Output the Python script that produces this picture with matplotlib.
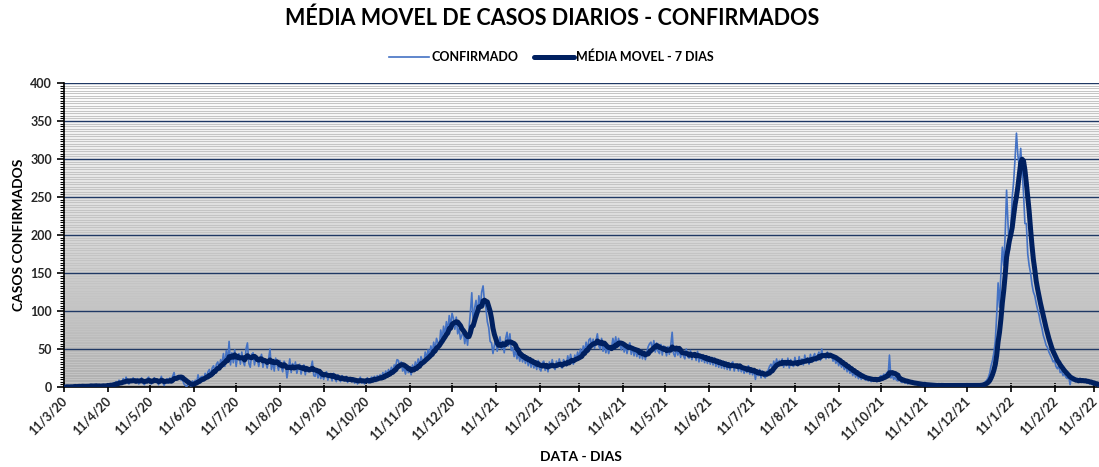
import numpy as np
import pandas as pd
import matplotlib
matplotlib.use("Agg")
import matplotlib.pyplot as plt
from matplotlib.ticker import MultipleLocator
from matplotlib.colors import LinearSegmentedColormap

# casos confirmados por dia
mar20 = [0,0,1,0,0,1,0,2,1,0,1,1,0,2,1,1,0,2,1,3,1]
apr20 = [1,2,1,0,2,1,3,2,1,2,3,2,4,3,5,4,7,3,9,6,5,11,6,13,7,4,10,6,12,7]
may20 = [6,11,4,9,12,5,3,9,11,13,5,4,9,12,6,10,3,8,14,6,2,9,11,5,12,8,14,19,9,12,15]
jun20 = [14,9,10,4,2,0,7,3,1,8,4,9,5,16,8,13,14,8,18,12,20,23,14,25,28,19,30,33,24,36]
jul20 = [31,44,27,48,33,60,29,45,32,49,27,41,44,30,46,33,28,50,58,31,26,43,45,29,40,38,27,37,43,26,35]
aug20 = [33,25,37,50,23,34,21,38,30,22,35,26,20,34,29,12,24,37,19,31,23,33,18,26,30,17,25,29,16,27,20]
sep20 = [22,25,34,15,14,24,12,21,11,19,10,18,20,9,17,15,8,18,11,7,16,10,7,15,9,8,14,6,12,8]
oct20 = [7,12,5,10,4,9,13,5,10,4,9,12,5,10,13,9,14,7,15,10,16,11,19,13,21,15,23,17,26,20,29]
nov20 = [27,36,35,25,33,21,25,17,28,19,26,16,29,22,33,26,37,28,40,35,31,46,37,49,40,54,44,59,49,64]
dec20 = [58,54,75,62,80,68,86,73,94,79,97,90,76,92,70,77,63,68,74,57,70,55,77,98,124,84,104,114,92,120,104]
jan21 = [125,133,112,104,86,78,60,58,44,55,62,47,58,66,50,60,45,64,72,54,70,48,52,40,49,37,45,34,44,33,41]
feb21 = [31,40,28,38,26,36,25,33,23,35,24,21,32,34,22,31,20,33,25,36,27,23,34,26,37,28,25,36]
mar21 = [33,28,41,31,43,34,30,42,35,46,38,50,41,54,46,59,49,62,64,53,63,51,61,70,54,50,64,47,58,45,55]
apr21 = [44,53,51,64,54,66,52,64,55,49,59,46,56,44,54,58,43,53,41,51,40,50,38,48,37,47,36,46,53,57]
may21 = [59,49,61,46,58,47,44,56,42,54,51,41,53,43,55,72,44,40,52,42,51,39,49,41,37,50,40,38,48,36,45]
jun21 = [44,35,47,33,43,34,42,32,41,31,40,30,39,29,38,27,36,26,35,25,34,24,33,23,32,22,31,33,21,30]
jul21 = [28,21,30,20,27,18,26,19,28,17,25,16,24,10,22,15,23,12,21,14,12,20,22,27,30,24,34,27,37,28,35]
aug21 = [29,37,26,35,28,38,25,36,29,27,39,30,28,40,31,37,29,42,32,38,30,43,33,40,44,34,41,46,35,50,39]
sep21 = [44,37,46,38,40,43,34,39,31,37,28,34,26,31,23,29,20,26,18,23,15,21,13,18,11,16,10,13,12,9]
oct21 = [12,8,13,7,11,8,12,7,11,13,15,12,17,14,19,13,42,12,16,10,13,9,8,12,7,6,10,5,8,4,7]
nov21 = [5,4,6,3,5,4,3,4,2,3,4,2,3,2,3,1,2,3,2,1,3,2,2,1,3,2,1,2,3,2]
dec21 = [2,3,1,2,2,3,1,2,3,2,1,2,3,2,2,1,3,2,2,3,3,4,5,7,9,12,18,28,35,45,60]
jan22 = [95,137,105,150,184,160,200,259,215,180,205,250,270,300,334,305,290,314,285,255,215,215,175,160,150,135,125,120,110,102,95]
feb22 = [85,78,68,62,55,52,46,42,38,33,35,27,24,28,19,21,15,17,13,11,14,3,12,8,9,7,10,8]
mar22 = [9,7,10,6,8,5,7,4,6,3,5,2,3,1]

meses = [("2020-03-11", mar20), ("2020-04-01", apr20), ("2020-05-01", may20),
         ("2020-06-01", jun20), ("2020-07-01", jul20), ("2020-08-01", aug20),
         ("2020-09-01", sep20), ("2020-10-01", oct20), ("2020-11-01", nov20),
         ("2020-12-01", dec20), ("2021-01-01", jan21), ("2021-02-01", feb21),
         ("2021-03-01", mar21), ("2021-04-01", apr21), ("2021-05-01", may21),
         ("2021-06-01", jun21), ("2021-07-01", jul21), ("2021-08-01", aug21),
         ("2021-09-01", sep21), ("2021-10-01", oct21), ("2021-11-01", nov21),
         ("2021-12-01", dec21), ("2022-01-01", jan22), ("2022-02-01", feb22),
         ("2022-03-01", mar22)]

confirmado = pd.concat([pd.Series(v, index=pd.date_range(s, periods=len(v), freq="D"))
                        for s, v in meses])
media = confirmado.rolling(7, min_periods=1).mean()

ticks = pd.date_range("2020-03-01", "2022-03-01", freq="MS") + pd.Timedelta(days=10)
tick_labels = [f"{d.day}/{d.month}/{d.year % 100}" for d in ticks]

plt.rcParams["font.family"] = ["Lato", "DejaVu Sans"]
plt.rcParams["font.weight"] = "bold"

fig = plt.figure(figsize=(10.99, 4.67), dpi=100)
ax = fig.add_axes([64 / 1099, 80 / 467, 1035 / 1099, 304 / 467])

cmap = LinearSegmentedColormap.from_list("fundo", ["#b0b0b0", "#ffffff"])
grad = np.linspace(0, 1, 256).reshape(-1, 1)
ax.imshow(grad, cmap=cmap, aspect="auto", extent=[0, 1, 0, 1], origin="lower",
          transform=ax.transAxes, zorder=0)

ax.plot(confirmado.index, confirmado.values, color="#4472C4", lw=1.2, zorder=3,
        label="CONFIRMADO")
ax.plot(media.index, media.values, color="#002060", lw=3.6, zorder=4,
        solid_capstyle="round", label="MÉDIA MOVEL - 7 DIAS")

ax.set_xlim(pd.Timestamp("2020-03-11"), pd.Timestamp("2022-03-14 12:00"))
ax.set_ylim(0, 400)
ax.yaxis.set_major_locator(MultipleLocator(50))
ax.yaxis.set_minor_locator(MultipleLocator(10 / 3))
ax.set_xticks(ticks)
ax.set_xticklabels([])
# rotulos do eixo x: canto superior direito um pouco a esquerda do tick
for d, txt in zip(ticks, tick_labels):
    ax.annotate(txt, xy=(d, 0), xycoords=("data", "axes fraction"),
                xytext=(-3, -8), textcoords="offset pixels", rotation=45,
                ha="right", va="top", rotation_mode="anchor",
                fontsize=9, fontweight="bold", color="#262626", annotation_clip=False)
for lbl in ax.get_yticklabels():
    lbl.set_fontsize(9)
    lbl.set_color("#262626")

ax.grid(which="major", axis="y", color="#1F3864", lw=1.0, zorder=1)
ax.grid(which="minor", axis="y", color="#c4c4c4", lw=0.7, zorder=1)
ax.set_axisbelow(True)

ax.tick_params(axis="x", direction="inout", length=7, width=1.2, pad=3)
ax.tick_params(axis="y", which="major", direction="out", length=5, width=1.2)
ax.tick_params(axis="y", which="minor", direction="out", length=3, width=0.8)
for s in ["top", "right"]:
    ax.spines[s].set_visible(False)
ax.spines["left"].set_linewidth(1.2)
ax.spines["bottom"].set_linewidth(1.2)

ax.set_ylabel("CASOS CONFIRMADOS", fontsize=10, fontweight="bold", labelpad=4)
fig.text(581 / 1099, 1 - 457 / 467, "DATA - DIAS", ha="center", va="center",
         fontsize=10, fontweight="bold")

fig.suptitle("MÉDIA MOVEL DE CASOS DIARIOS - CONFIRMADOS", x=0.502, y=0.985,
             fontsize=15.5, fontweight="bold")
fig.legend(loc="upper center", bbox_to_anchor=(0.502, 0.915), ncol=2, frameon=False,
           prop={"weight": "bold", "size": 9}, handlelength=3.2, columnspacing=1.2,
           handletextpad=0.2)

fig.savefig("out.png", dpi=100)
